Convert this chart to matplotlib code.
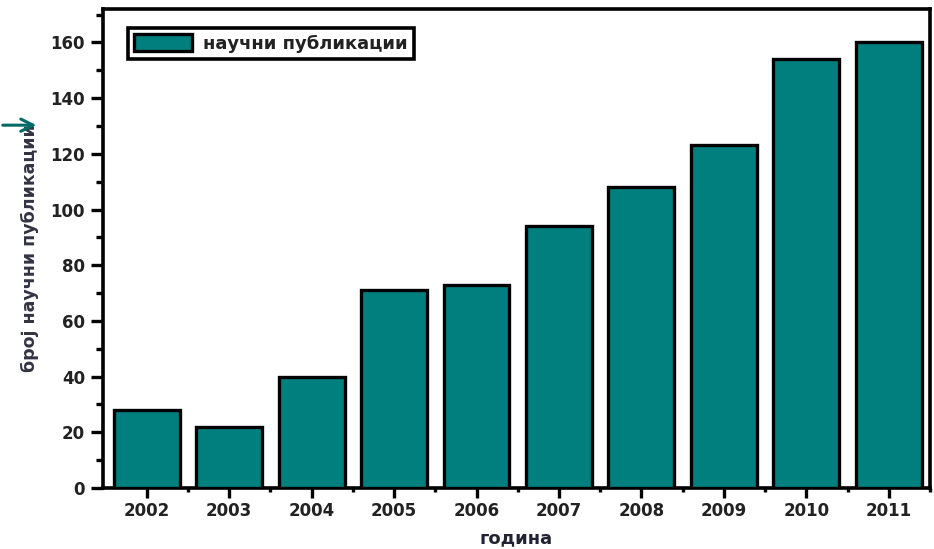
import numpy as np
import matplotlib.pyplot as plt
from matplotlib.patches import FancyArrowPatch
from matplotlib.ticker import MultipleLocator

# Number of scientific publications per year
years = ['2002', '2003', '2004', '2005', '2006', '2007', '2008', '2009', '2010', '2011']
publications = [28, 22, 40, 71, 73, 94, 108, 123, 154, 160]

bar_color = '#007f7f'
plt.rcParams['font.family'] = ['DejaVu Sans']

fig = plt.figure(figsize=(9.34, 5.49), dpi=100)
ax = fig.add_axes([0.1103, 0.1111, 0.8854, 0.8725])

x = np.arange(len(years))
ax.bar(x, publications, width=0.8, color=bar_color, edgecolor='black',
       linewidth=2.4, label='научни публикации', zorder=3)

ax.set_xlim(-0.53, 9.48)
ax.set_ylim(0, 172)
ax.set_xticks(x)
ax.set_xticklabels(years)
ax.set_xticks(x + 0.5, minor=True)
ax.yaxis.set_major_locator(MultipleLocator(20))
ax.yaxis.set_minor_locator(MultipleLocator(10))

for side in ['left', 'bottom', 'top', 'right']:
    ax.spines[side].set_linewidth(2.6)

ax.tick_params(axis='both', which='major', direction='out', width=2.4,
               labelsize=12, colors='black')
ax.tick_params(axis='y', which='major', length=9, pad=4)
ax.tick_params(axis='x', which='major', length=7, pad=3)
ax.tick_params(axis='y', which='minor', direction='out', length=5, width=2.4)
ax.tick_params(axis='x', which='minor', direction='out', length=3, width=2.4)
for lbl in ax.get_xticklabels() + ax.get_yticklabels():
    lbl.set_fontweight('bold')
    lbl.set_color('#222222')

ax.set_xlabel('година', fontsize=13, fontweight='bold', color='#222233', labelpad=7)
ax.set_ylabel('број научни публикации', fontsize=12.5, fontweight='bold',
              color='#333344', labelpad=8)

leg = ax.legend(loc='upper left', bbox_to_anchor=(0.030, 0.960), frameon=True,
                fancybox=False, framealpha=1, fontsize=13, handlelength=3.2,
                handleheight=1.0, borderpad=0.35, handletextpad=0.6,
                borderaxespad=0.0)
leg.get_frame().set_edgecolor('black')
leg.get_frame().set_linewidth(2.6)
for t in leg.get_texts():
    t.set_fontweight('bold')
    t.set_color('#222222')

# teal pointer next to the y axis
fig.patches.append(FancyArrowPatch(
    (0.0, 0.772), (0.042, 0.772), transform=fig.transFigure,
    arrowstyle='->', mutation_scale=22, color='#006a66', linewidth=2.2))

fig.savefig('out.png', dpi=100)
